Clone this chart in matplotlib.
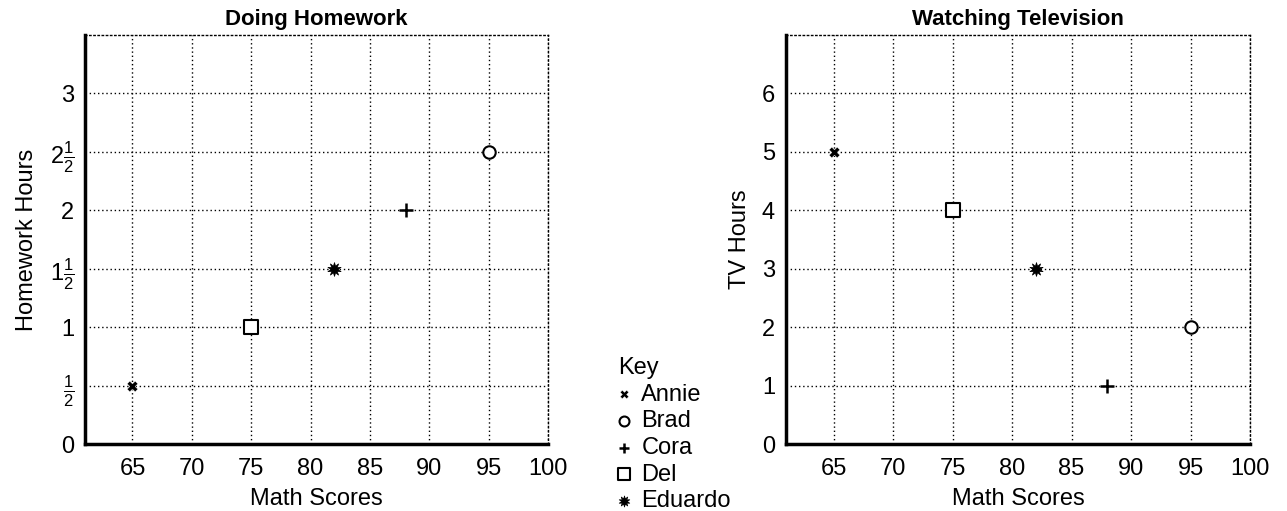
import matplotlib
matplotlib.use("Agg")
import matplotlib.pyplot as plt

plt.rcParams['font.family'] = ['Liberation Sans', 'DejaVu Sans']
plt.rcParams['mathtext.fontset'] = 'custom'
plt.rcParams['mathtext.rm'] = 'Liberation Sans'
plt.rcParams['mathtext.it'] = 'Liberation Sans'

# dados
students = ['Annie', 'Brad', 'Cora', 'Del', 'Eduardo']
math_scores = [65, 95, 88, 75, 82]
homework_hours = [0.5, 2.5, 2, 1, 1.5]
tv_hours = [5, 2, 1, 4, 3]

x_ticks = [65, 70, 75, 80, 85, 90, 95, 100]
hw_ticks = [0, 0.5, 1, 1.5, 2, 2.5, 3]
hw_labels = ['0', r'$\frac{1}{2}$', '1', r'$1\frac{1}{2}$', '2', r'$2\frac{1}{2}$', '3']
tv_ticks = [0, 1, 2, 3, 4, 5, 6]

# estilo de cada marcador
styles = {
    'Annie': dict(marker='X', s=60, c='black', edgecolors='white', linewidths=0.3),
    'Brad': dict(marker='o', s=80, facecolors='white', edgecolors='black', linewidths=1.5),
    'Cora': dict(marker='+', s=90, c='black', linewidths=1.8),
    'Del': dict(marker='s', s=110, facecolors='white', edgecolors='black', linewidths=1.5),
    'Eduardo': dict(marker=(10, 1, 0), s=100, c='black', linewidths=0.5),
}

fig = plt.figure(figsize=(12.87, 5.11), dpi=100)
ax1 = fig.add_axes([85/1287, 67/511, 463/1287, 409/511])
ax2 = fig.add_axes([786/1287, 67/511, 464/1287, 409/511])


def setup(ax, ylim, yticks, ylabels, title, ylabel):
    ax.set_xlim(61, 100)
    ax.set_ylim(*ylim)
    ax.set_xticks(x_ticks)
    ax.set_yticks(yticks)
    ax.set_yticklabels(ylabels)
    ax.tick_params(axis='x', length=0, labelsize=17, pad=10)
    ax.tick_params(axis='y', length=0, labelsize=17, pad=8)
    ax.grid(True, color='black', linestyle=(0, (1, 2)), linewidth=1)
    ax.set_axisbelow(True)
    for side in ['left', 'bottom']:
        ax.spines[side].set_linewidth(2.5)
    for side in ['top', 'right']:
        ax.spines[side].set_linestyle((0, (1, 2)))
        ax.spines[side].set_linewidth(1)
    ax.set_title(title, fontsize=16, fontweight='bold', pad=7)
    ax.set_xlabel('Math Scores', fontsize=17, labelpad=6)
    ax.set_ylabel(ylabel, fontsize=17, labelpad=8)


setup(ax1, (0, 3.5), hw_ticks, hw_labels, 'Doing Homework', 'Homework Hours')
setup(ax2, (0, 7), tv_ticks, [str(t) for t in tv_ticks], 'Watching Television', 'TV Hours')

handles = []
for i, name in enumerate(students):
    h = ax1.scatter(math_scores[i], homework_hours[i], zorder=3, label=name, **styles[name])
    ax2.scatter(math_scores[i], tv_hours[i], zorder=3, **styles[name])
    handles.append(h)

leg = fig.legend(handles, students, title='Key', loc='upper left',
                 bbox_to_anchor=(606/1287, 1 - 345/511), frameon=False,
                 fontsize=17, title_fontsize=17, alignment='left',
                 handletextpad=0.45, labelspacing=0.2, borderpad=0,
                 handlelength=0.55, markerscale=0.8)

fig.savefig('out.png', dpi=100)
